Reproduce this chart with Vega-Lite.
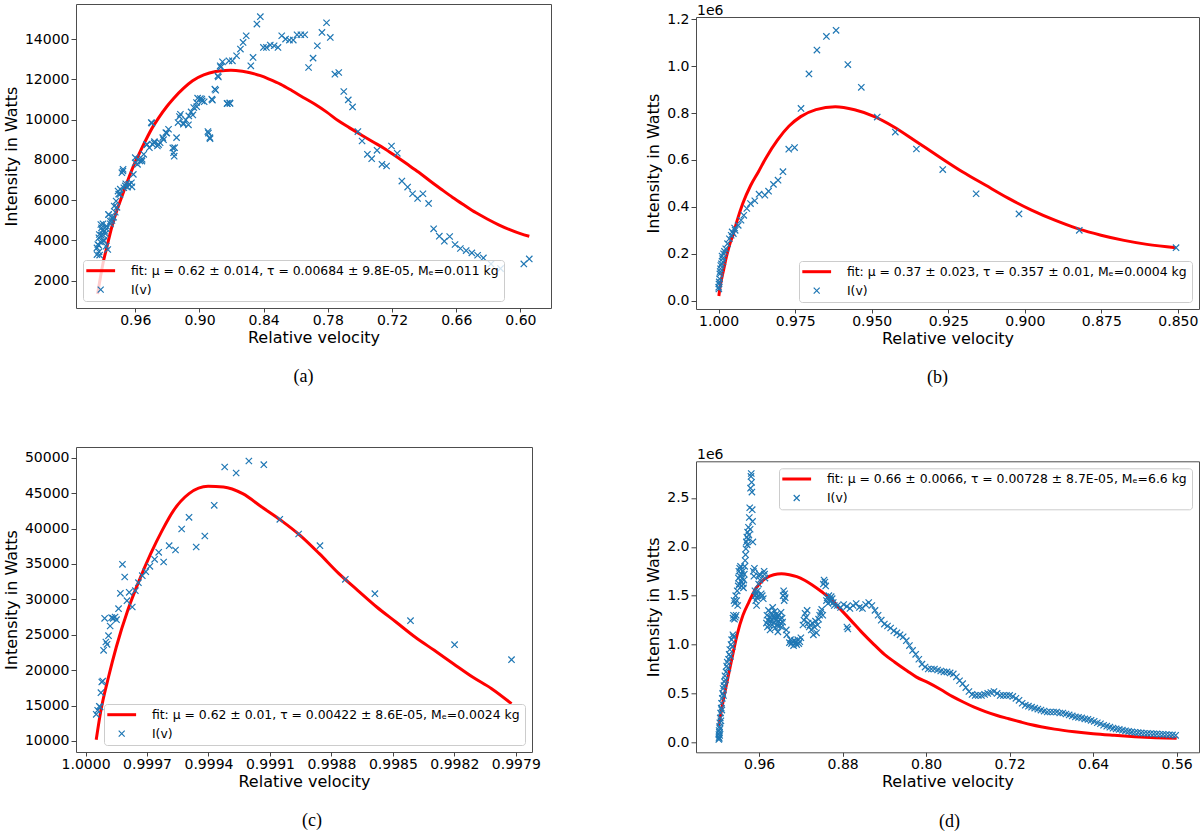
{
"$schema":"https://vega.github.io/schema/vega-lite/v6.json",
"background":"white",
"padding":{"left":2,"top":3,"right":0,"bottom":0},
"config":{
"view":{"stroke":"#4d4d4d","strokeWidth":1},
"font":"DejaVu Sans",
"axis":{"grid":false,"domain":false,"tickColor":"#444","labelFont":"DejaVu Sans","labelFontSize":14,"labelColor":"#000","titleFont":"DejaVu Sans","titleFontSize":16,"titleFontWeight":"normal","titleColor":"#000","labelFlush":false,"labelOverlap":false},
"axisX":{"tickSize":4,"labelPadding":1,"titlePadding":2},
"axisY":{"tickSize":5,"labelPadding":2,"titlePadding":5},
"legend":{"labelFont":"DejaVu Sans","labelFontSize":12.4,"labelColor":"#000","labelLimit":600,"fillColor":"rgba(255,255,255,0.8)","strokeColor":"#cccccc","cornerRadius":3,"padding":4.5,"rowPadding":6,"symbolSize":144,"symbolOffset":7,"labelOffset":24,"symbolStrokeWidth":1.5,"offset":7},
"title":{"font":"Liberation Serif","fontSize":18,"fontWeight":"normal","color":"#000","orient":"bottom","offset":23.3,"frame":"group"}
},
"datasets":{
"a":[
{"v":0.9952,"I":1330,"s":"fit"},{"v":0.99,"I":2900,"s":"fit"},{"v":0.9864,"I":3700,"s":"fit"},{"v":0.982,"I":4650,"s":"fit"},{"v":0.9771,"I":5500,"s":"fit"},{"v":0.972,"I":6250,"s":"fit"},{"v":0.9672,"I":6950,"s":"fit"},{"v":0.96,"I":7900,"s":"fit"},{"v":0.9564,"I":8300,"s":"fit"},{"v":0.95,"I":9000,"s":"fit"},{"v":0.944,"I":9600,"s":"fit"},{"v":0.938,"I":10100,"s":"fit"},{"v":0.9305,"I":10650,"s":"fit"},{"v":0.9242,"I":11050,"s":"fit"},{"v":0.915,"I":11550,"s":"fit"},{"v":0.9064,"I":11930,"s":"fit"},{"v":0.896,"I":12220,"s":"fit"},{"v":0.8849,"I":12390,"s":"fit"},{"v":0.876,"I":12440,"s":"fit"},{"v":0.8706,"I":12450,"s":"fit"},{"v":0.86,"I":12400,"s":"fit"},{"v":0.8527,"I":12330,"s":"fit"},{"v":0.843,"I":12180,"s":"fit"},{"v":0.8349,"I":12010,"s":"fit"},{"v":0.824,"I":11750,"s":"fit"},{"v":0.8134,"I":11430,"s":"fit"},{"v":0.803,"I":11100,"s":"fit"},{"v":0.792,"I":10760,"s":"fit"},{"v":0.781,"I":10370,"s":"fit"},{"v":0.7705,"I":9950,"s":"fit"},{"v":0.76,"I":9600,"s":"fit"},{"v":0.7491,"I":9250,"s":"fit"},{"v":0.738,"I":8900,"s":"fit"},{"v":0.7276,"I":8580,"s":"fit"},{"v":0.717,"I":8200,"s":"fit"},{"v":0.7062,"I":7800,"s":"fit"},{"v":0.695,"I":7380,"s":"fit"},{"v":0.6847,"I":6960,"s":"fit"},{"v":0.674,"I":6540,"s":"fit"},{"v":0.6633,"I":6130,"s":"fit"},{"v":0.652,"I":5730,"s":"fit"},{"v":0.6418,"I":5380,"s":"fit"},{"v":0.631,"I":5060,"s":"fit"},{"v":0.6203,"I":4770,"s":"fit"},{"v":0.61,"I":4530,"s":"fit"},{"v":0.6,"I":4330,"s":"fit"},{"v":0.5917,"I":4200,"s":"fit"},
{"v":0.8431,"I":15112,"s":"I(v)"},{"v":0.8463,"I":14747,"s":"I(v)"},{"v":0.8563,"I":14166,"s":"I(v)"},{"v":0.8592,"I":13834,"s":"I(v)"},{"v":0.8617,"I":13502,"s":"I(v)"},{"v":0.8653,"I":13170,"s":"I(v)"},{"v":0.8692,"I":12921,"s":"I(v)"},{"v":0.8724,"I":12921,"s":"I(v)"},{"v":0.8785,"I":12871,"s":"I(v)"},{"v":0.8806,"I":12672,"s":"I(v)"},{"v":0.8828,"I":12174,"s":"I(v)"},{"v":0.8856,"I":11510,"s":"I(v)"},{"v":0.8885,"I":11012,"s":"I(v)"},{"v":0.8921,"I":9402,"s":"I(v)"},{"v":0.8903,"I":9103,"s":"I(v)"},{"v":0.8742,"I":10796,"s":"I(v)"},{"v":0.8717,"I":10829,"s":"I(v)"},{"v":0.852,"I":12672,"s":"I(v)"},{"v":0.8499,"I":13087,"s":"I(v)"},{"v":0.8402,"I":13585,"s":"I(v)"},{"v":0.8374,"I":13585,"s":"I(v)"},{"v":0.8338,"I":13701,"s":"I(v)"},{"v":0.8302,"I":13668,"s":"I(v)"},{"v":0.8266,"I":13585,"s":"I(v)"},{"v":0.8231,"I":14166,"s":"I(v)"},{"v":0.8195,"I":14000,"s":"I(v)"},{"v":0.8159,"I":13950,"s":"I(v)"},{"v":0.8123,"I":13950,"s":"I(v)"},{"v":0.8088,"I":14216,"s":"I(v)"},{"v":0.8052,"I":14216,"s":"I(v)"},{"v":0.8016,"I":14216,"s":"I(v)"},{"v":0.798,"I":12589,"s":"I(v)"},{"v":0.7938,"I":13054,"s":"I(v)"},{"v":0.7898,"I":13668,"s":"I(v)"},{"v":0.7855,"I":14332,"s":"I(v)"},{"v":0.7812,"I":14813,"s":"I(v)"},{"v":0.7777,"I":14083,"s":"I(v)"},{"v":0.7734,"I":12257,"s":"I(v)"},{"v":0.7698,"I":12340,"s":"I(v)"},{"v":0.7651,"I":11394,"s":"I(v)"},{"v":0.7609,"I":10979,"s":"I(v)"},{"v":0.7569,"I":10630,"s":"I(v)"},{"v":0.7519,"I":9402,"s":"I(v)"},{"v":0.748,"I":8937,"s":"I(v)"},{"v":0.743,"I":8273,"s":"I(v)"},{"v":0.739,"I":8057,"s":"I(v)"},{"v":0.734,"I":8472,"s":"I(v)"},{"v":0.7294,"I":7775,"s":"I(v)"},{"v":0.7251,"I":7692,"s":"I(v)"},{"v":0.7205,"I":8688,"s":"I(v)"},{"v":0.7151,"I":8323,"s":"I(v)"},{"v":0.7108,"I":6945,"s":"I(v)"},{"v":0.7054,"I":6646,"s":"I(v)"},{"v":0.7008,"I":6314,"s":"I(v)"},{"v":0.6961,"I":6082,"s":"I(v)"},{"v":0.6911,"I":6314,"s":"I(v)"},{"v":0.6858,"I":5833,"s":"I(v)"},{"v":0.6811,"I":4571,"s":"I(v)"},{"v":0.6758,"I":4206,"s":"I(v)"},{"v":0.6711,"I":3957,"s":"I(v)"},{"v":0.6661,"I":4189,"s":"I(v)"},{"v":0.6611,"I":3791,"s":"I(v)"},{"v":0.6561,"I":3592,"s":"I(v)"},{"v":0.6507,"I":3492,"s":"I(v)"},{"v":0.6454,"I":3376,"s":"I(v)"},{"v":0.64,"I":3260,"s":"I(v)"},{"v":0.6346,"I":3127,"s":"I(v)"},{"v":0.6275,"I":2828,"s":"I(v)"},{"v":0.6186,"I":2596,"s":"I(v)"},{"v":0.5968,"I":2828,"s":"I(v)"},{"v":0.5917,"I":3077,"s":"I(v)"},
{"v":0.9017,"I":11062,"s":"I(v)"},{"v":0.8992,"I":11045,"s":"I(v)"},{"v":0.8974,"I":10929,"s":"I(v)"},{"v":0.9028,"I":10846,"s":"I(v)"},{"v":0.9053,"I":10597,"s":"I(v)"},{"v":0.9078,"I":10381,"s":"I(v)"},{"v":0.9099,"I":10182,"s":"I(v)"},{"v":0.9128,"I":9983,"s":"I(v)"},{"v":0.915,"I":9767,"s":"I(v)"},{"v":0.9178,"I":10265,"s":"I(v)"},{"v":0.92,"I":9850,"s":"I(v)"},{"v":0.9214,"I":9103,"s":"I(v)"},{"v":0.9232,"I":8605,"s":"I(v)"},{"v":0.9242,"I":8356,"s":"I(v)"},{"v":0.9289,"I":9518,"s":"I(v)"},{"v":0.9314,"I":9352,"s":"I(v)"},{"v":0.9343,"I":9103,"s":"I(v)"},{"v":0.9368,"I":8854,"s":"I(v)"},{"v":0.9393,"I":8688,"s":"I(v)"},{"v":0.9421,"I":8904,"s":"I(v)"},{"v":0.9439,"I":8771,"s":"I(v)"},{"v":0.945,"I":9850,"s":"I(v)"},{"v":0.9468,"I":8605,"s":"I(v)"},{"v":0.9493,"I":8771,"s":"I(v)"},{"v":0.9521,"I":8273,"s":"I(v)"},{"v":0.9536,"I":8024,"s":"I(v)"},{"v":0.9557,"I":7941,"s":"I(v)"},{"v":0.9579,"I":7775,"s":"I(v)"},{"v":0.96,"I":8107,"s":"I(v)"},{"v":0.9618,"I":7277,"s":"I(v)"},{"v":0.9636,"I":6862,"s":"I(v)"},{"v":0.9654,"I":6779,"s":"I(v)"},{"v":0.9672,"I":6646,"s":"I(v)"},{"v":0.9689,"I":6812,"s":"I(v)"},{"v":0.9707,"I":6613,"s":"I(v)"},{"v":0.9714,"I":7526,"s":"I(v)"},{"v":0.9725,"I":7360,"s":"I(v)"},{"v":0.9743,"I":6281,"s":"I(v)"},{"v":0.9761,"I":6447,"s":"I(v)"},{"v":0.9779,"I":5949,"s":"I(v)"},{"v":0.9797,"I":5700,"s":"I(v)"},{"v":0.9815,"I":5119,"s":"I(v)"},{"v":0.9832,"I":4953,"s":"I(v)"},{"v":0.985,"I":5285,"s":"I(v)"},{"v":0.9868,"I":4704,"s":"I(v)"},{"v":0.9886,"I":4455,"s":"I(v)"},{"v":0.9904,"I":4289,"s":"I(v)"},{"v":0.9922,"I":4787,"s":"I(v)"},{"v":0.994,"I":4123,"s":"I(v)"},{"v":0.9958,"I":3625,"s":"I(v)"},{"v":0.9958,"I":3293,"s":"I(v)"},{"v":0.995,"I":3791,"s":"I(v)"},{"v":0.9936,"I":4289,"s":"I(v)"},{"v":0.9915,"I":4621,"s":"I(v)"},{"v":0.9893,"I":3957,"s":"I(v)"},{"v":0.9872,"I":3708,"s":"I(v)"},{"v":0.9857,"I":3542,"s":"I(v)"},
{"v":0.9942,"I":3756,"s":"I(v)"},{"v":0.9939,"I":3428,"s":"I(v)"},{"v":0.9933,"I":3264,"s":"I(v)"},{"v":0.9926,"I":3920,"s":"I(v)"},{"v":0.9917,"I":4248,"s":"I(v)"},{"v":0.9908,"I":4493,"s":"I(v)"},{"v":0.9902,"I":4821,"s":"I(v)"},{"v":0.9895,"I":4002,"s":"I(v)"},{"v":0.988,"I":4330,"s":"I(v)"},{"v":0.987,"I":4575,"s":"I(v)"},{"v":0.9849,"I":5280,"s":"I(v)"},{"v":0.9833,"I":4821,"s":"I(v)"},{"v":0.9818,"I":4985,"s":"I(v)"},{"v":0.9802,"I":5149,"s":"I(v)"},{"v":0.9787,"I":5395,"s":"I(v)"},{"v":0.9771,"I":5641,"s":"I(v)"},{"v":0.9755,"I":6296,"s":"I(v)"},{"v":0.974,"I":6542,"s":"I(v)"},{"v":0.9715,"I":7444,"s":"I(v)"},{"v":0.9693,"I":6706,"s":"I(v)"},{"v":0.9662,"I":6788,"s":"I(v)"},{"v":0.9631,"I":6657,"s":"I(v)"},{"v":0.96,"I":7853,"s":"I(v)"},{"v":0.9569,"I":8017,"s":"I(v)"},{"v":0.9538,"I":7935,"s":"I(v)"},{"v":0.9491,"I":8755,"s":"I(v)"},{"v":0.9445,"I":9820,"s":"I(v)"},{"v":0.9423,"I":8837,"s":"I(v)"},{"v":0.9382,"I":8755,"s":"I(v)"},{"v":0.9336,"I":9001,"s":"I(v)"},{"v":0.9305,"I":9329,"s":"I(v)"},{"v":0.9249,"I":8591,"s":"I(v)"},{"v":0.9236,"I":8181,"s":"I(v)"},{"v":0.9187,"I":10148,"s":"I(v)"},{"v":0.9149,"I":9820,"s":"I(v)"},{"v":0.9103,"I":9738,"s":"I(v)"},{"v":0.9062,"I":10230,"s":"I(v)"},{"v":0.9025,"I":10640,"s":"I(v)"},{"v":0.8978,"I":11017,"s":"I(v)"},{"v":0.8956,"I":10886,"s":"I(v)"},{"v":0.8916,"I":9329,"s":"I(v)"},{"v":0.8901,"I":9050,"s":"I(v)"},{"v":0.8879,"I":10968,"s":"I(v)"},{"v":0.8848,"I":11459,"s":"I(v)"},{"v":0.8823,"I":12115,"s":"I(v)"},{"v":0.8801,"I":12606,"s":"I(v)"},{"v":0.8739,"I":10804,"s":"I(v)"},{"v":0.8714,"I":10804,"s":"I(v)"}
],
"b":[
{"v":0.99993,"I":20000,"s":"fit"},{"v":0.9995,"I":60000,"s":"fit"},{"v":0.999,"I":95000,"s":"fit"},{"v":0.9984,"I":130000,"s":"fit"},{"v":0.9975,"I":185000,"s":"fit"},{"v":0.9965,"I":235000,"s":"fit"},{"v":0.9952,"I":285000,"s":"fit"},{"v":0.994,"I":340000,"s":"fit"},{"v":0.9921,"I":415000,"s":"fit"},{"v":0.9896,"I":490000,"s":"fit"},{"v":0.987,"I":550000,"s":"fit"},{"v":0.9845,"I":610000,"s":"fit"},{"v":0.9808,"I":685000,"s":"fit"},{"v":0.977,"I":745000,"s":"fit"},{"v":0.9732,"I":785000,"s":"fit"},{"v":0.9682,"I":815000,"s":"fit"},{"v":0.9619,"I":827000,"s":"fit"},{"v":0.9556,"I":814000,"s":"fit"},{"v":0.9493,"I":786000,"s":"fit"},{"v":0.943,"I":743000,"s":"fit"},{"v":0.9355,"I":679000,"s":"fit"},{"v":0.928,"I":614000,"s":"fit"},{"v":0.9204,"I":550000,"s":"fit"},{"v":0.9129,"I":493000,"s":"fit"},{"v":0.9053,"I":436000,"s":"fit"},{"v":0.8978,"I":386000,"s":"fit"},{"v":0.8902,"I":343000,"s":"fit"},{"v":0.8827,"I":307000,"s":"fit"},{"v":0.8751,"I":279000,"s":"fit"},{"v":0.8676,"I":257000,"s":"fit"},{"v":0.8601,"I":240000,"s":"fit"},{"v":0.8506,"I":226000,"s":"fit"},
{"v":0.96165,"I":1153000,"s":"I(v)"},{"v":0.9648,"I":1127000,"s":"I(v)"},{"v":0.9679,"I":1069000,"s":"I(v)"},{"v":0.9705,"I":967000,"s":"I(v)"},{"v":0.9731,"I":820000,"s":"I(v)"},{"v":0.9578,"I":1007000,"s":"I(v)"},{"v":0.9534,"I":910000,"s":"I(v)"},{"v":0.9482,"I":783000,"s":"I(v)"},{"v":0.9423,"I":719000,"s":"I(v)"},{"v":0.9354,"I":647000,"s":"I(v)"},{"v":0.9268,"I":559000,"s":"I(v)"},{"v":0.9159,"I":456000,"s":"I(v)"},{"v":0.9019,"I":370000,"s":"I(v)"},{"v":0.8822,"I":300000,"s":"I(v)"},{"v":0.8506,"I":226000,"s":"I(v)"},{"v":0.9752,"I":653000,"s":"I(v)"},{"v":0.9771,"I":646000,"s":"I(v)"},{"v":0.979,"I":550000,"s":"I(v)"},{"v":0.9806,"I":514000,"s":"I(v)"},{"v":0.9821,"I":496000,"s":"I(v)"},{"v":0.9837,"I":467000,"s":"I(v)"},{"v":0.9849,"I":450000,"s":"I(v)"},{"v":0.9868,"I":454000,"s":"I(v)"},{"v":0.9882,"I":426000,"s":"I(v)"},{"v":0.9896,"I":414000,"s":"I(v)"},{"v":0.9908,"I":393000,"s":"I(v)"},{"v":0.9918,"I":364000,"s":"I(v)"},{"v":0.9927,"I":343000,"s":"I(v)"},{"v":0.9936,"I":321000,"s":"I(v)"},{"v":0.9946,"I":300000,"s":"I(v)"},{"v":0.9952,"I":286000,"s":"I(v)"},{"v":0.9959,"I":279000,"s":"I(v)"},{"v":0.9965,"I":264000,"s":"I(v)"},{"v":0.9971,"I":243000,"s":"I(v)"},{"v":0.9977,"I":221000,"s":"I(v)"},{"v":0.9984,"I":200000,"s":"I(v)"},{"v":0.9987,"I":179000,"s":"I(v)"},{"v":0.9991,"I":157000,"s":"I(v)"},{"v":0.9994,"I":136000,"s":"I(v)"},{"v":0.9996,"I":114000,"s":"I(v)"},{"v":0.9997,"I":93000,"s":"I(v)"},{"v":0.9999,"I":71000,"s":"I(v)"},{"v":0.99993,"I":50000,"s":"I(v)"},{"v":1.0,"I":57000,"s":"I(v)"},{"v":0.9995,"I":124000,"s":"I(v)"},{"v":0.9989,"I":190000,"s":"I(v)"},{"v":0.9981,"I":210000,"s":"I(v)"},{"v":0.9956,"I":293000,"s":"I(v)"},{"v":0.9948,"I":310000,"s":"I(v)"},{"v":0.9998,"I":80000,"s":"I(v)"},{"v":0.9993,"I":150000,"s":"I(v)"},{"v":0.9986,"I":165000,"s":"I(v)"}
],
"c":[
{"v":0.999948,"I":10188,"s":"fit"},{"v":0.999925,"I":14329,"s":"fit"},{"v":0.999888,"I":19034,"s":"fit"},{"v":0.99985,"I":23270,"s":"fit"},{"v":0.999794,"I":28447,"s":"fit"},{"v":0.999738,"I":32682,"s":"fit"},{"v":0.999682,"I":36447,"s":"fit"},{"v":0.999626,"I":39741,"s":"fit"},{"v":0.99957,"I":42564,"s":"fit"},{"v":0.999495,"I":44917,"s":"fit"},{"v":0.999402,"I":45953,"s":"fit"},{"v":0.999327,"I":45859,"s":"fit"},{"v":0.999233,"I":44917,"s":"fit"},{"v":0.99914,"I":43035,"s":"fit"},{"v":0.999046,"I":41153,"s":"fit"},{"v":0.998953,"I":39035,"s":"fit"},{"v":0.998859,"I":36447,"s":"fit"},{"v":0.998766,"I":33700,"s":"fit"},{"v":0.998672,"I":31271,"s":"fit"},{"v":0.998579,"I":28918,"s":"fit"},{"v":0.998485,"I":26800,"s":"fit"},{"v":0.998392,"I":24682,"s":"fit"},{"v":0.998298,"I":22800,"s":"fit"},{"v":0.998205,"I":20917,"s":"fit"},{"v":0.998111,"I":19035,"s":"fit"},{"v":0.998018,"I":17388,"s":"fit"},{"v":0.997921,"I":15270,"s":"fit"},
{"v":0.999948,"I":13763,"s":"I(v)"},{"v":0.999941,"I":14329,"s":"I(v)"},{"v":0.999933,"I":14894,"s":"I(v)"},{"v":0.999929,"I":14800,"s":"I(v)"},{"v":0.999925,"I":16823,"s":"I(v)"},{"v":0.999921,"I":18329,"s":"I(v)"},{"v":0.999916,"I":18470,"s":"I(v)"},{"v":0.999912,"I":22799,"s":"I(v)"},{"v":0.999907,"I":27317,"s":"I(v)"},{"v":0.999901,"I":23976,"s":"I(v)"},{"v":0.999895,"I":23647,"s":"I(v)"},{"v":0.999888,"I":24870,"s":"I(v)"},{"v":0.99988,"I":26235,"s":"I(v)"},{"v":0.999873,"I":27411,"s":"I(v)"},{"v":0.999865,"I":27317,"s":"I(v)"},{"v":0.999856,"I":27505,"s":"I(v)"},{"v":0.999849,"I":27129,"s":"I(v)"},{"v":0.999839,"I":28682,"s":"I(v)"},{"v":0.99983,"I":30847,"s":"I(v)"},{"v":0.99982,"I":34941,"s":"I(v)"},{"v":0.999809,"I":33153,"s":"I(v)"},{"v":0.999798,"I":29811,"s":"I(v)"},{"v":0.999787,"I":30988,"s":"I(v)"},{"v":0.999772,"I":28917,"s":"I(v)"},{"v":0.999757,"I":31223,"s":"I(v)"},{"v":0.999742,"I":32353,"s":"I(v)"},{"v":0.999723,"I":33341,"s":"I(v)"},{"v":0.999706,"I":33906,"s":"I(v)"},{"v":0.999686,"I":34659,"s":"I(v)"},{"v":0.999663,"I":35647,"s":"I(v)"},{"v":0.999643,"I":36635,"s":"I(v)"},{"v":0.999619,"I":35270,"s":"I(v)"},{"v":0.999592,"I":37576,"s":"I(v)"},{"v":0.999561,"I":36965,"s":"I(v)"},{"v":0.999531,"I":39929,"s":"I(v)"},{"v":0.999495,"I":41576,"s":"I(v)"},{"v":0.99946,"I":37388,"s":"I(v)"},{"v":0.999418,"I":38941,"s":"I(v)"},{"v":0.999372,"I":43270,"s":"I(v)"},{"v":0.999321,"I":48682,"s":"I(v)"},{"v":0.999265,"I":47835,"s":"I(v)"},{"v":0.999203,"I":49529,"s":"I(v)"},{"v":0.99913,"I":49012,"s":"I(v)"},{"v":0.999052,"I":41294,"s":"I(v)"},{"v":0.99896,"I":39224,"s":"I(v)"},{"v":0.998856,"I":37576,"s":"I(v)"},{"v":0.998732,"I":32823,"s":"I(v)"},{"v":0.998588,"I":30800,"s":"I(v)"},{"v":0.998414,"I":26988,"s":"I(v)"},{"v":0.998199,"I":23600,"s":"I(v)"},{"v":0.997921,"I":21482,"s":"I(v)"}
],
"d":[
{"v":0.9987,"I":170000,"s":"fit"},{"v":0.9945,"I":420000,"s":"fit"},{"v":0.9907,"I":620000,"s":"fit"},{"v":0.986,"I":860000,"s":"fit"},{"v":0.9811,"I":1100000,"s":"fit"},{"v":0.9755,"I":1300000,"s":"fit"},{"v":0.97,"I":1430000,"s":"fit"},{"v":0.9644,"I":1550000,"s":"fit"},{"v":0.959,"I":1630000,"s":"fit"},{"v":0.9534,"I":1680000,"s":"fit"},{"v":0.946,"I":1715000,"s":"fit"},{"v":0.9386,"I":1725000,"s":"fit"},{"v":0.931,"I":1715000,"s":"fit"},{"v":0.9239,"I":1695000,"s":"fit"},{"v":0.916,"I":1655000,"s":"fit"},{"v":0.9091,"I":1610000,"s":"fit"},{"v":0.9,"I":1540000,"s":"fit"},{"v":0.8907,"I":1460000,"s":"fit"},{"v":0.8819,"I":1360000,"s":"fit"},{"v":0.8723,"I":1250000,"s":"fit"},{"v":0.862,"I":1130000,"s":"fit"},{"v":0.8499,"I":1000000,"s":"fit"},{"v":0.84,"I":900000,"s":"fit"},{"v":0.83,"I":820000,"s":"fit"},{"v":0.818,"I":730000,"s":"fit"},{"v":0.8096,"I":670000,"s":"fit"},{"v":0.798,"I":610000,"s":"fit"},{"v":0.786,"I":540000,"s":"fit"},{"v":0.775,"I":470000,"s":"fit"},{"v":0.765,"I":415000,"s":"fit"},{"v":0.754,"I":360000,"s":"fit"},{"v":0.7432,"I":315000,"s":"fit"},{"v":0.732,"I":275000,"s":"fit"},{"v":0.722,"I":245000,"s":"fit"},{"v":0.71,"I":210000,"s":"fit"},{"v":0.699,"I":180000,"s":"fit"},{"v":0.69,"I":160000,"s":"fit"},{"v":0.6769,"I":135000,"s":"fit"},{"v":0.658,"I":108000,"s":"fit"},{"v":0.64,"I":88000,"s":"fit"},{"v":0.62,"I":72000,"s":"fit"},{"v":0.6,"I":58000,"s":"fit"},{"v":0.58,"I":48000,"s":"fit"},{"v":0.56,"I":41000,"s":"fit"},
{"v":0.9986,"I":30000,"s":"I(v)"},{"v":0.9985,"I":80000,"s":"I(v)"},{"v":0.9984,"I":50000,"s":"I(v)"},{"v":0.9983,"I":120000,"s":"I(v)"},{"v":0.9982,"I":40000,"s":"I(v)"},{"v":0.9981,"I":100000,"s":"I(v)"},{"v":0.9979,"I":160000,"s":"I(v)"},{"v":0.9978,"I":70000,"s":"I(v)"},{"v":0.9976,"I":200000,"s":"I(v)"},{"v":0.9974,"I":140000,"s":"I(v)"},{"v":0.9972,"I":250000,"s":"I(v)"},{"v":0.9969,"I":300000,"s":"I(v)"},{"v":0.9966,"I":220000,"s":"I(v)"},{"v":0.9963,"I":350000,"s":"I(v)"},{"v":0.996,"I":400000,"s":"I(v)"},{"v":0.9957,"I":330000,"s":"I(v)"},{"v":0.9953,"I":450000,"s":"I(v)"},{"v":0.9949,"I":500000,"s":"I(v)"},{"v":0.9945,"I":550000,"s":"I(v)"},{"v":0.9941,"I":480000,"s":"I(v)"},{"v":0.9937,"I":580000,"s":"I(v)"},{"v":0.9932,"I":620000,"s":"I(v)"},{"v":0.9927,"I":680000,"s":"I(v)"},{"v":0.9922,"I":640000,"s":"I(v)"},{"v":0.9917,"I":720000,"s":"I(v)"},{"v":0.9911,"I":780000,"s":"I(v)"},{"v":0.9905,"I":820000,"s":"I(v)"},{"v":0.9899,"I":760000,"s":"I(v)"},{"v":0.9893,"I":850000,"s":"I(v)"},{"v":0.9887,"I":900000,"s":"I(v)"},{"v":0.9881,"I":950000,"s":"I(v)"},{"v":0.9875,"I":880000,"s":"I(v)"},{"v":0.9869,"I":1000000,"s":"I(v)"},{"v":0.9863,"I":1050000,"s":"I(v)"},{"v":0.9857,"I":980000,"s":"I(v)"},{"v":0.9851,"I":1100000,"s":"I(v)"},{"v":0.9846,"I":1080000,"s":"I(v)"},
{"v":0.985,"I":1270000,"s":"I(v)"},{"v":0.9845,"I":1300000,"s":"I(v)"},{"v":0.984,"I":1450000,"s":"I(v)"},{"v":0.9836,"I":1260000,"s":"I(v)"},{"v":0.9832,"I":1420000,"s":"I(v)"},{"v":0.9828,"I":1280000,"s":"I(v)"},{"v":0.9824,"I":1500000,"s":"I(v)"},{"v":0.982,"I":1300000,"s":"I(v)"},{"v":0.9815,"I":1450000,"s":"I(v)"},{"v":0.981,"I":1550000,"s":"I(v)"},{"v":0.9805,"I":1400000,"s":"I(v)"},{"v":0.98,"I":1600000,"s":"I(v)"},{"v":0.9798,"I":1680000,"s":"I(v)"},{"v":0.9794,"I":1750000,"s":"I(v)"},{"v":0.979,"I":1620000,"s":"I(v)"},{"v":0.9786,"I":1780000,"s":"I(v)"},{"v":0.9782,"I":1700000,"s":"I(v)"},{"v":0.9778,"I":1800000,"s":"I(v)"},{"v":0.9774,"I":1650000,"s":"I(v)"},{"v":0.977,"I":1720000,"s":"I(v)"},{"v":0.9766,"I":1600000,"s":"I(v)"},{"v":0.9762,"I":1680000,"s":"I(v)"},{"v":0.9758,"I":1750000,"s":"I(v)"},{"v":0.9754,"I":1620000,"s":"I(v)"},{"v":0.975,"I":1580000,"s":"I(v)"},{"v":0.9746,"I":1660000,"s":"I(v)"},{"v":0.9742,"I":1720000,"s":"I(v)"},{"v":0.9738,"I":1800000,"s":"I(v)"},{"v":0.9734,"I":1860000,"s":"I(v)"},{"v":0.973,"I":1920000,"s":"I(v)"},{"v":0.9726,"I":1980000,"s":"I(v)"},{"v":0.9722,"I":2050000,"s":"I(v)"},{"v":0.9718,"I":2100000,"s":"I(v)"},{"v":0.9714,"I":2020000,"s":"I(v)"},{"v":0.971,"I":2150000,"s":"I(v)"},{"v":0.9706,"I":2080000,"s":"I(v)"},{"v":0.9702,"I":2200000,"s":"I(v)"},{"v":0.9698,"I":2120000,"s":"I(v)"},{"v":0.9694,"I":2300000,"s":"I(v)"},{"v":0.969,"I":2400000,"s":"I(v)"},{"v":0.9686,"I":2180000,"s":"I(v)"},{"v":0.9682,"I":2600000,"s":"I(v)"},{"v":0.9678,"I":2720000,"s":"I(v)"},{"v":0.9675,"I":2750000,"s":"I(v)"},{"v":0.9672,"I":2660000,"s":"I(v)"},{"v":0.9669,"I":2560000,"s":"I(v)"},{"v":0.9666,"I":2380000,"s":"I(v)"},{"v":0.9663,"I":2260000,"s":"I(v)"},{"v":0.966,"I":2050000,"s":"I(v)"},
{"v":0.9655,"I":1750000,"s":"I(v)"},{"v":0.965,"I":1700000,"s":"I(v)"},{"v":0.9645,"I":1780000,"s":"I(v)"},{"v":0.964,"I":1550000,"s":"I(v)"},{"v":0.9636,"I":1500000,"s":"I(v)"},{"v":0.9632,"I":1450000,"s":"I(v)"},{"v":0.9628,"I":1520000,"s":"I(v)"},{"v":0.9624,"I":1400000,"s":"I(v)"},{"v":0.962,"I":1480000,"s":"I(v)"},{"v":0.9615,"I":1550000,"s":"I(v)"},{"v":0.961,"I":1500000,"s":"I(v)"},{"v":0.9605,"I":1620000,"s":"I(v)"},{"v":0.96,"I":1700000,"s":"I(v)"},{"v":0.9596,"I":1720000,"s":"I(v)"},{"v":0.9592,"I":1660000,"s":"I(v)"},{"v":0.958,"I":1520000,"s":"I(v)"},{"v":0.957,"I":1500000,"s":"I(v)"},{"v":0.956,"I":1470000,"s":"I(v)"},{"v":0.9552,"I":1750000,"s":"I(v)"},{"v":0.9548,"I":1720000,"s":"I(v)"},{"v":0.9544,"I":1680000,"s":"I(v)"},
{"v":0.953,"I":1220000,"s":"I(v)"},{"v":0.9525,"I":1300000,"s":"I(v)"},{"v":0.952,"I":1180000,"s":"I(v)"},{"v":0.9515,"I":1250000,"s":"I(v)"},{"v":0.951,"I":1350000,"s":"I(v)"},{"v":0.9505,"I":1200000,"s":"I(v)"},{"v":0.95,"I":1280000,"s":"I(v)"},{"v":0.9495,"I":1150000,"s":"I(v)"},{"v":0.949,"I":1240000,"s":"I(v)"},{"v":0.9485,"I":1320000,"s":"I(v)"},{"v":0.948,"I":1260000,"s":"I(v)"},{"v":0.9475,"I":1200000,"s":"I(v)"},{"v":0.947,"I":1380000,"s":"I(v)"},{"v":0.9465,"I":1300000,"s":"I(v)"},{"v":0.946,"I":1220000,"s":"I(v)"},{"v":0.9455,"I":1270000,"s":"I(v)"},{"v":0.945,"I":1340000,"s":"I(v)"},{"v":0.9445,"I":1170000,"s":"I(v)"},{"v":0.944,"I":1250000,"s":"I(v)"},{"v":0.9435,"I":1310000,"s":"I(v)"},{"v":0.943,"I":1200000,"s":"I(v)"},{"v":0.9425,"I":1280000,"s":"I(v)"},{"v":0.942,"I":1130000,"s":"I(v)"},{"v":0.9415,"I":1240000,"s":"I(v)"},{"v":0.941,"I":1300000,"s":"I(v)"},{"v":0.9405,"I":1190000,"s":"I(v)"},{"v":0.94,"I":1260000,"s":"I(v)"},{"v":0.9395,"I":1220000,"s":"I(v)"},{"v":0.939,"I":1330000,"s":"I(v)"},{"v":0.9385,"I":1180000,"s":"I(v)"},{"v":0.938,"I":1270000,"s":"I(v)"},{"v":0.9375,"I":1230000,"s":"I(v)"},
{"v":0.937,"I":1500000,"s":"I(v)"},{"v":0.9365,"I":1550000,"s":"I(v)"},{"v":0.936,"I":1450000,"s":"I(v)"},{"v":0.9355,"I":1520000,"s":"I(v)"},{"v":0.935,"I":1480000,"s":"I(v)"},{"v":0.934,"I":1150000,"s":"I(v)"},{"v":0.9335,"I":1100000,"s":"I(v)"},
{"v":0.931,"I":1020000,"s":"I(v)"},{"v":0.93,"I":1050000,"s":"I(v)"},{"v":0.929,"I":1010000,"s":"I(v)"},{"v":0.928,"I":1030000,"s":"I(v)"},{"v":0.927,"I":990000,"s":"I(v)"},{"v":0.926,"I":1040000,"s":"I(v)"},{"v":0.925,"I":1020000,"s":"I(v)"},{"v":0.924,"I":1000000,"s":"I(v)"},{"v":0.923,"I":1050000,"s":"I(v)"},{"v":0.922,"I":1010000,"s":"I(v)"},{"v":0.921,"I":1030000,"s":"I(v)"},{"v":0.92,"I":1070000,"s":"I(v)"},
{"v":0.918,"I":1200000,"s":"I(v)"},{"v":0.917,"I":1250000,"s":"I(v)"},{"v":0.916,"I":1320000,"s":"I(v)"},{"v":0.915,"I":1280000,"s":"I(v)"},{"v":0.914,"I":1350000,"s":"I(v)"},{"v":0.913,"I":1220000,"s":"I(v)"},{"v":0.912,"I":1180000,"s":"I(v)"},{"v":0.911,"I":1200000,"s":"I(v)"},{"v":0.91,"I":1150000,"s":"I(v)"},{"v":0.909,"I":1220000,"s":"I(v)"},{"v":0.908,"I":1100000,"s":"I(v)"},{"v":0.907,"I":1180000,"s":"I(v)"},{"v":0.906,"I":1240000,"s":"I(v)"},{"v":0.905,"I":1120000,"s":"I(v)"},{"v":0.904,"I":1200000,"s":"I(v)"},{"v":0.903,"I":1260000,"s":"I(v)"},{"v":0.902,"I":1300000,"s":"I(v)"},{"v":0.901,"I":1330000,"s":"I(v)"},{"v":0.9,"I":1360000,"s":"I(v)"},{"v":0.899,"I":1300000,"s":"I(v)"},
{"v":0.8985,"I":1620000,"s":"I(v)"},{"v":0.8978,"I":1660000,"s":"I(v)"},{"v":0.897,"I":1640000,"s":"I(v)"},{"v":0.8962,"I":1600000,"s":"I(v)"},{"v":0.8955,"I":1450000,"s":"I(v)"},{"v":0.8948,"I":1480000,"s":"I(v)"},{"v":0.894,"I":1420000,"s":"I(v)"},{"v":0.8932,"I":1500000,"s":"I(v)"},{"v":0.8925,"I":1460000,"s":"I(v)"},{"v":0.8918,"I":1440000,"s":"I(v)"},{"v":0.891,"I":1490000,"s":"I(v)"},{"v":0.89,"I":1470000,"s":"I(v)"},{"v":0.889,"I":1430000,"s":"I(v)"},{"v":0.888,"I":1400000,"s":"I(v)"},{"v":0.8759,"I":1180000,"s":"I(v)"},{"v":0.875,"I":1160000,"s":"I(v)"},
{"v":0.885,"I":1400000,"s":"I(v)"},{"v":0.882,"I":1380000,"s":"I(v)"},{"v":0.879,"I":1410000,"s":"I(v)"},{"v":0.876,"I":1390000,"s":"I(v)"},{"v":0.873,"I":1370000,"s":"I(v)"},{"v":0.87,"I":1400000,"s":"I(v)"},{"v":0.867,"I":1420000,"s":"I(v)"},{"v":0.864,"I":1380000,"s":"I(v)"},{"v":0.861,"I":1370000,"s":"I(v)"},{"v":0.858,"I":1410000,"s":"I(v)"},{"v":0.855,"I":1430000,"s":"I(v)"},{"v":0.852,"I":1400000,"s":"I(v)"},{"v":0.849,"I":1350000,"s":"I(v)"},{"v":0.846,"I":1300000,"s":"I(v)"},{"v":0.843,"I":1250000,"s":"I(v)"},{"v":0.84,"I":1210000,"s":"I(v)"},{"v":0.837,"I":1190000,"s":"I(v)"},{"v":0.834,"I":1170000,"s":"I(v)"},{"v":0.831,"I":1140000,"s":"I(v)"},{"v":0.828,"I":1120000,"s":"I(v)"},{"v":0.825,"I":1100000,"s":"I(v)"},{"v":0.822,"I":1080000,"s":"I(v)"},{"v":0.819,"I":1040000,"s":"I(v)"},{"v":0.816,"I":990000,"s":"I(v)"},{"v":0.813,"I":940000,"s":"I(v)"},{"v":0.81,"I":900000,"s":"I(v)"},{"v":0.807,"I":850000,"s":"I(v)"},{"v":0.804,"I":800000,"s":"I(v)"},{"v":0.801,"I":770000,"s":"I(v)"},{"v":0.798,"I":750000,"s":"I(v)"},{"v":0.795,"I":750000,"s":"I(v)"},{"v":0.792,"I":750000,"s":"I(v)"},{"v":0.789,"I":740000,"s":"I(v)"},{"v":0.786,"I":730000,"s":"I(v)"},{"v":0.783,"I":720000,"s":"I(v)"},{"v":0.78,"I":720000,"s":"I(v)"},{"v":0.777,"I":710000,"s":"I(v)"},{"v":0.774,"I":700000,"s":"I(v)"},{"v":0.771,"I":670000,"s":"I(v)"},{"v":0.768,"I":630000,"s":"I(v)"},{"v":0.765,"I":600000,"s":"I(v)"},{"v":0.762,"I":560000,"s":"I(v)"},{"v":0.759,"I":520000,"s":"I(v)"},{"v":0.756,"I":490000,"s":"I(v)"},{"v":0.753,"I":480000,"s":"I(v)"},{"v":0.75,"I":480000,"s":"I(v)"},{"v":0.747,"I":480000,"s":"I(v)"},{"v":0.744,"I":490000,"s":"I(v)"},{"v":0.741,"I":500000,"s":"I(v)"},{"v":0.738,"I":510000,"s":"I(v)"},{"v":0.735,"I":520000,"s":"I(v)"},{"v":0.732,"I":500000,"s":"I(v)"},{"v":0.729,"I":480000,"s":"I(v)"},{"v":0.726,"I":480000,"s":"I(v)"},{"v":0.723,"I":480000,"s":"I(v)"},{"v":0.72,"I":480000,"s":"I(v)"},{"v":0.717,"I":470000,"s":"I(v)"},{"v":0.714,"I":450000,"s":"I(v)"},{"v":0.711,"I":430000,"s":"I(v)"},{"v":0.708,"I":400000,"s":"I(v)"},{"v":0.705,"I":380000,"s":"I(v)"},{"v":0.702,"I":370000,"s":"I(v)"},{"v":0.699,"I":360000,"s":"I(v)"},{"v":0.696,"I":350000,"s":"I(v)"},{"v":0.693,"I":340000,"s":"I(v)"},{"v":0.69,"I":330000,"s":"I(v)"},{"v":0.687,"I":320000,"s":"I(v)"},{"v":0.684,"I":310000,"s":"I(v)"},{"v":0.681,"I":310000,"s":"I(v)"},{"v":0.678,"I":310000,"s":"I(v)"},{"v":0.675,"I":310000,"s":"I(v)"},{"v":0.672,"I":300000,"s":"I(v)"},{"v":0.669,"I":300000,"s":"I(v)"},{"v":0.666,"I":290000,"s":"I(v)"},{"v":0.663,"I":280000,"s":"I(v)"},{"v":0.66,"I":270000,"s":"I(v)"},{"v":0.657,"I":260000,"s":"I(v)"},{"v":0.654,"I":255000,"s":"I(v)"},{"v":0.651,"I":250000,"s":"I(v)"},{"v":0.648,"I":240000,"s":"I(v)"},{"v":0.645,"I":235000,"s":"I(v)"},{"v":0.642,"I":225000,"s":"I(v)"},{"v":0.639,"I":215000,"s":"I(v)"},{"v":0.636,"I":200000,"s":"I(v)"},{"v":0.633,"I":190000,"s":"I(v)"},{"v":0.63,"I":175000,"s":"I(v)"},{"v":0.627,"I":165000,"s":"I(v)"},{"v":0.624,"I":155000,"s":"I(v)"},{"v":0.621,"I":145000,"s":"I(v)"},{"v":0.618,"I":138000,"s":"I(v)"},{"v":0.615,"I":132000,"s":"I(v)"},{"v":0.612,"I":124000,"s":"I(v)"},{"v":0.609,"I":118000,"s":"I(v)"},{"v":0.606,"I":112000,"s":"I(v)"},{"v":0.603,"I":107000,"s":"I(v)"},{"v":0.6,"I":103000,"s":"I(v)"},{"v":0.597,"I":100000,"s":"I(v)"},{"v":0.594,"I":96000,"s":"I(v)"},{"v":0.591,"I":93000,"s":"I(v)"},{"v":0.588,"I":91000,"s":"I(v)"},{"v":0.585,"I":90000,"s":"I(v)"},{"v":0.582,"I":87000,"s":"I(v)"},{"v":0.579,"I":86000,"s":"I(v)"},{"v":0.576,"I":83000,"s":"I(v)"},{"v":0.573,"I":82000,"s":"I(v)"},{"v":0.57,"I":80000,"s":"I(v)"},{"v":0.567,"I":77000,"s":"I(v)"},{"v":0.564,"I":76000,"s":"I(v)"},{"v":0.561,"I":72000,"s":"I(v)"}
]
},
"resolve":{"scale":{"color":"independent"},"legend":{"color":"independent"}},
"spacing":93,
"hconcat":[
{"vconcat":[
{"width":475,"height":304,"title":{"text":"(a)","dx":-10},"data":{"name":"a"},
"encoding":{
"x":{"field":"v","type":"quantitative","title":"Relative velocity","scale":{"domain":[0.5714,1.0154],"reverse":true,"nice":false,"zero":false},"axis":{"values":[0.96,0.9,0.84,0.78,0.72,0.66,0.6],"format":".2f"}},
"y":{"field":"I","type":"quantitative","title":"Intensity in Watts","scale":{"domain":[637,15743],"nice":false,"zero":false},"axis":{"values":[2000,4000,6000,8000,10000,12000,14000],"format":"d"}},
"color":{"field":"s","type":"nominal","scale":{"domain":["fit","I(v)"],"range":["#ff0000","#1f77b4"]},"legend":{"title":null,"orient":"bottom-left","labelExpr":"datum.value === 'fit' ? 'fit: μ = 0.62 ± 0.014, τ = 0.00684 ± 9.8E-05, Mₑ=0.011 kg' : datum.value","encode":{"symbols":{"update":{"shape":{"signal":"datum.value === 'fit' ? 'M-2.4,0L2.4,0' : 'M-0.5,-0.5L0.5,0.5M-0.5,0.5L0.5,-0.5'"},"stroke":{"signal":"datum.value === 'fit' ? '#ff0000' : '#1f77b4'"},"strokeWidth":{"signal":"datum.value === 'fit' ? 3 : 1.2"},"fill":{"value":"transparent"},"opacity":{"value":1}}}}}}
},
"layer":[
{"transform":[{"filter":"datum.s === 'fit'"}],"mark":{"type":"line","strokeWidth":3,"interpolate":"monotone"}},
{"transform":[{"filter":"datum.s === 'I(v)'"}],"mark":{"type":"point","shape":"M-1,-1L1,1M-1,1L1,-1","filled":false,"size":40,"strokeWidth":1.2,"opacity":1}}
]},
{"width":456,"height":305,"title":{"text":"(c)","dx":8},"data":{"name":"c"},
"encoding":{
"x":{"field":"v","type":"quantitative","title":"Relative velocity","scale":{"domain":[0.997821,1.0000467],"reverse":true,"nice":false,"zero":false},"axis":{"values":[1.0,0.9997,0.9994,0.9991,0.9988,0.9985,0.9982,0.9979],"format":".4f"}},
"y":{"field":"I","type":"quantitative","title":"Intensity in Watts","scale":{"domain":[8447,51506],"nice":false,"zero":false},"axis":{"values":[10000,15000,20000,25000,30000,35000,40000,45000,50000],"format":"d"}},
"color":{"field":"s","type":"nominal","scale":{"domain":["fit","I(v)"],"range":["#ff0000","#1f77b4"]},"legend":{"title":null,"orient":"bottom-right","labelExpr":"datum.value === 'fit' ? 'fit: μ = 0.62 ± 0.01, τ = 0.00422 ± 8.6E-05, Mₑ=0.0024 kg' : datum.value","encode":{"symbols":{"update":{"shape":{"signal":"datum.value === 'fit' ? 'M-2.4,0L2.4,0' : 'M-0.5,-0.5L0.5,0.5M-0.5,0.5L0.5,-0.5'"},"stroke":{"signal":"datum.value === 'fit' ? '#ff0000' : '#1f77b4'"},"strokeWidth":{"signal":"datum.value === 'fit' ? 3 : 1.2"},"fill":{"value":"transparent"},"opacity":{"value":1}}}}}}
},
"layer":[
{"transform":[{"filter":"datum.s === 'fit'"}],"mark":{"type":"line","strokeWidth":3,"interpolate":"monotone"}},
{"transform":[{"filter":"datum.s === 'I(v)'"}],"mark":{"type":"point","shape":"M-1,-1L1,1M-1,1L1,-1","filled":false,"size":40,"strokeWidth":1.2,"opacity":1}}
]}
],"spacing":59,"resolve":{"scale":{"color":"independent"},"legend":{"color":"independent"}}},
{"vconcat":[
{"vconcat":[
{"width":503,"height":12,"view":{"stroke":null},"data":{"values":[{"t":"1e6"}]},"mark":{"type":"text","align":"left","baseline":"alphabetic","dx":1,"dy":-1,"fontSize":14,"font":"DejaVu Sans","color":"#000000"},"encoding":{"x":{"datum":0,"type":"quantitative","scale":{"domain":[0,1]},"axis":null},"y":{"datum":0,"type":"quantitative","scale":{"domain":[0,1]},"axis":null},"text":{"field":"t","type":"nominal"}}},
{"width":503,"height":292,"title":{"text":"(b)","dx":-10},"data":{"name":"b"},
"encoding":{
"x":{"field":"v","type":"quantitative","title":"Relative velocity","scale":{"domain":[0.8431,1.0074],"reverse":true,"nice":false,"zero":false},"axis":{"values":[1.0,0.975,0.95,0.925,0.9,0.875,0.85],"format":".3f"}},
"y":{"field":"I","type":"quantitative","title":"Intensity in Watts","scale":{"domain":[-35700,1210000],"nice":false,"zero":false},"axis":{"values":[0,200000,400000,600000,800000,1000000,1200000],"labelExpr":"format(datum.value/1000000, '.1f')"}},
"color":{"field":"s","type":"nominal","scale":{"domain":["fit","I(v)"],"range":["#ff0000","#1f77b4"]},"legend":{"title":null,"orient":"bottom-right","labelExpr":"datum.value === 'fit' ? 'fit: μ = 0.37 ± 0.023, τ = 0.357 ± 0.01, Mₑ=0.0004 kg' : datum.value","encode":{"symbols":{"update":{"shape":{"signal":"datum.value === 'fit' ? 'M-2.4,0L2.4,0' : 'M-0.5,-0.5L0.5,0.5M-0.5,0.5L0.5,-0.5'"},"stroke":{"signal":"datum.value === 'fit' ? '#ff0000' : '#1f77b4'"},"strokeWidth":{"signal":"datum.value === 'fit' ? 3 : 1.2"},"fill":{"value":"transparent"},"opacity":{"value":1}}}}}}
},
"layer":[
{"transform":[{"filter":"datum.s === 'fit'"}],"mark":{"type":"line","strokeWidth":3,"interpolate":"monotone"}},
{"transform":[{"filter":"datum.s === 'I(v)'"}],"mark":{"type":"point","shape":"M-1,-1L1,1M-1,1L1,-1","filled":false,"size":40,"strokeWidth":1.2,"opacity":1}}
]}
],"spacing":1,"bounds":"flush","resolve":{"scale":{"x":"independent","y":"independent","color":"independent"},"legend":{"color":"independent"}}},
{"width":503,"height":291,"title":{"text":"(d)","dx":2},
"layer":[
{"data":{"name":"d"},
"encoding":{
"x":{"field":"v","type":"quantitative","title":"Relative velocity","scale":{"domain":[0.5386,1.02046],"reverse":true,"nice":false,"zero":false},"axis":{"values":[0.96,0.88,0.8,0.72,0.64,0.56],"format":".2f"}},
"y":{"field":"I","type":"quantitative","title":"Intensity in Watts","scale":{"domain":[-102000,2875000],"nice":false,"zero":false},"axis":{"values":[0,500000,1000000,1500000,2000000,2500000],"labelExpr":"format(datum.value/1000000, '.1f')"}},
"color":{"field":"s","type":"nominal","scale":{"domain":["fit","I(v)"],"range":["#ff0000","#1f77b4"]},"legend":{"title":null,"orient":"top-right","labelExpr":"datum.value === 'fit' ? 'fit: μ = 0.66 ± 0.0066, τ = 0.00728 ± 8.7E-05, Mₑ=6.6 kg' : datum.value","encode":{"symbols":{"update":{"shape":{"signal":"datum.value === 'fit' ? 'M-2.4,0L2.4,0' : 'M-0.5,-0.5L0.5,0.5M-0.5,0.5L0.5,-0.5'"},"stroke":{"signal":"datum.value === 'fit' ? '#ff0000' : '#1f77b4'"},"strokeWidth":{"signal":"datum.value === 'fit' ? 3 : 1.2"},"fill":{"value":"transparent"},"opacity":{"value":1}}}}}}
},
"layer":[
{"transform":[{"filter":"datum.s === 'fit'"}],"mark":{"type":"line","strokeWidth":3,"interpolate":"monotone"}},
{"transform":[{"filter":"datum.s === 'I(v)'"}],"mark":{"type":"point","shape":"M-1,-1L1,1M-1,1L1,-1","filled":false,"size":40,"strokeWidth":1.2,"opacity":1}}
]},
{"data":{"values":[{"t":"1e6"}]},"mark":{"type":"text","align":"left","baseline":"alphabetic","dy":-2,"dx":1,"fontSize":14,"font":"DejaVu Sans","color":"#000000"},"encoding":{"x":{"datum":1.02046,"type":"quantitative","title":"Relative velocity","scale":{"domain":[0.5386,1.02046],"reverse":true,"nice":false,"zero":false}},"y":{"datum":2875000,"type":"quantitative","title":"Intensity in Watts","scale":{"domain":[-102000,2875000],"nice":false,"zero":false}},"text":{"field":"t","type":"nominal"}}}
]}
],"spacing":59.3,"resolve":{"scale":{"color":"independent"},"legend":{"color":"independent"}}}
]
}
